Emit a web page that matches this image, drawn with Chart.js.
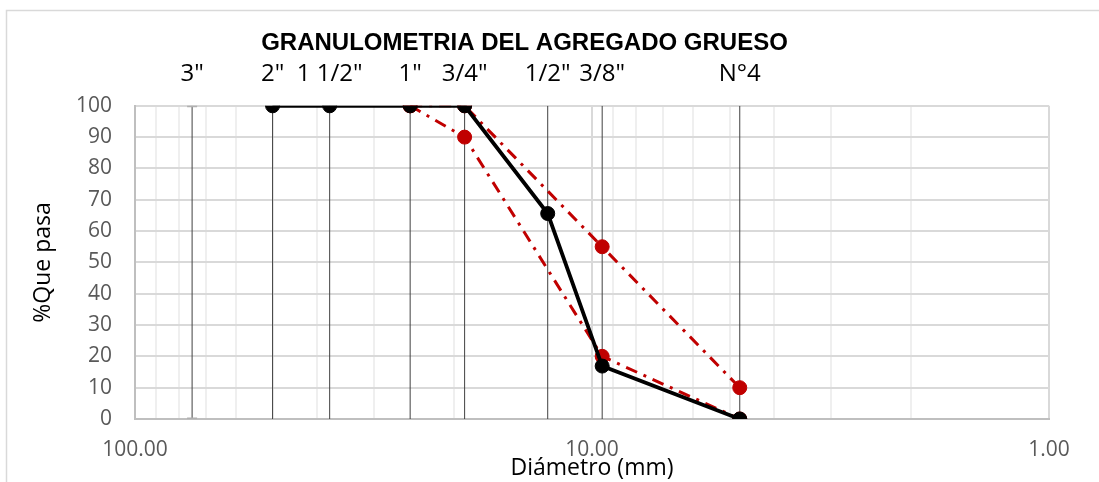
<!DOCTYPE html>
<html><head><meta charset="utf-8">
<script src="https://cdn.jsdelivr.net/npm/chart.js@4.4.1/dist/chart.umd.min.js"></script>
<style>html,body{margin:0;padding:0;background:#fff;}canvas{display:block;}</style>
</head><body>
<canvas id="c" width="1099" height="482"></canvas>
<script>
// ---- data ----
const sieveLabels = ['3"', '2"', '1 1/2"', '1"', '3/4"', '1/2"', '3/8"', 'N°4'];
const sieveSizes  = [75, 50, 37.5, 25, 19, 12.5, 9.5, 4.75];
const passing     = [null, 100, 100, 100, 100, 65.6, 16.9, 0];
const lowerLimit  = [null, null, null, 100, 90, null, 20, 0];
const upperLimit  = [null, null, null, 100, 100, null, 55, 10];
const xTickValues = [100, 90, 80, 70, 60, 50, 40, 30, 20, 10, 9, 8, 7, 6, 5, 4, 3, 2, 1];
const xTickLabels = {100: '100.00', 10: '10.00', 1: '1.00'};
const yTickValues = [0, 10, 20, 30, 40, 50, 60, 70, 80, 90, 100];

const toPoints = ys => sieveSizes.map((x, i) => ({x: x, y: ys[i]})).filter(p => p.y !== null);
const dropPoints = [];
sieveSizes.forEach(x => { dropPoints.push({x: x, y: 0}, {x: x, y: 100}, {x: x, y: null}); });

const isDecade = v => Math.abs(Math.log10(v) - Math.round(Math.log10(v))) < 1e-9;
const FONT = "'Open Sans', 'Liberation Sans', sans-serif";

const framePlugin = {
  id: 'frame',
  beforeDraw(chart) {
    const ctx = chart.ctx;
    ctx.save();
    ctx.fillStyle = '#ffffff';
    ctx.fillRect(0, 0, chart.width, chart.height);
    ctx.strokeStyle = '#d9d9d9';
    ctx.lineWidth = 1.5;
    ctx.strokeRect(6.5, 10.5, chart.width + 10, chart.height + 10);
    ctx.restore();
  }
};

new Chart(document.getElementById('c'), {
  type: 'line',
  data: {
    datasets: [
      {
        label: 'Muestra',
        data: toPoints(passing),
        borderColor: '#000000',
        backgroundColor: '#000000',
        borderWidth: 3.8,
        pointRadius: 7,
        pointBorderWidth: 1,
        pointBackgroundColor: '#000000',
        pointBorderColor: '#000000',
        tension: 0
      },
      {
        label: 'Límite inferior',
        data: toPoints(lowerLimit),
        borderColor: '#C00000',
        backgroundColor: '#C00000',
        borderWidth: 3,
        borderDash: [12, 7, 3, 7],
        pointRadius: 7,
        pointBorderWidth: 1,
        pointBackgroundColor: '#C00000',
        pointBorderColor: '#C00000',
        spanGaps: true,
        tension: 0
      },
      {
        label: 'Límite superior',
        data: toPoints(upperLimit),
        borderColor: '#C00000',
        backgroundColor: '#C00000',
        borderWidth: 3,
        borderDash: [12, 7, 3, 7],
        pointRadius: 7,
        pointBorderWidth: 1,
        pointBackgroundColor: '#C00000',
        pointBorderColor: '#C00000',
        spanGaps: true,
        tension: 0
      },
      {
        label: 'Tamices',
        data: dropPoints,
        borderColor: '#404040',
        borderWidth: 1,
        spanGaps: false,
        pointStyle: 'line',
        pointRadius: c => (c.raw && c.raw.x === 75 && c.raw.y !== null) ? 5 : 0,
        pointBorderColor: '#b0b0b0',
        pointBorderWidth: 3,
        pointHoverRadius: 0,
        tension: 0
      }
    ]
  },
  options: {
    responsive: false,
    animation: false,
    devicePixelRatio: 1,
    layout: {padding: {left: 0, right: 50, top: 0, bottom: 0}},
    plugins: {
      legend: {display: false},
      tooltip: {enabled: false},
      title: {
        display: true,
        text: 'GRANULOMETRIA DEL AGREGADO GRUESO',
        color: '#000000',
        font: {family: "'Liberation Sans', Arial, sans-serif", size: 24, weight: 'bold'},
        padding: {top: 29, bottom: 0}
      }
    },
    scales: {
      x: {
        type: 'logarithmic',
        position: 'bottom',
        reverse: true,
        min: 1,
        max: 100,
        afterBuildTicks: s => { s.ticks = xTickValues.map(v => ({value: v})); },
        afterFit: s => { s.height = 63; },
        ticks: {
          autoSkip: false,
          maxRotation: 0,
          padding: 18,
          color: '#595959',
          font: {family: FONT, size: 21},
          callback: v => xTickLabels[v] || ''
        },
        grid: {
          drawTicks: false,
          color: c => isDecade(c.tick.value) ? '#d9d9d9' : '#efefef',
          lineWidth: 2
        },
        border: {display: true, color: '#bfbfbf', width: 2},
        title: {
          display: true,
          text: 'Diámetro (mm)',
          color: '#000000',
          font: {family: FONT, size: 23},
          padding: {top: 0, bottom: 0}
        }
      },
      x2: {
        type: 'logarithmic',
        position: 'top',
        reverse: true,
        min: 1,
        max: 100,
        afterBuildTicks: s => { s.ticks = sieveSizes.map(v => ({value: v})); },
        afterFit: s => { s.height = 48; },
        ticks: {
          autoSkip: false,
          maxRotation: 0,
          padding: 17,
          color: '#000000',
          font: {family: FONT, size: 24},
          callback: (v, i) => sieveLabels[i]
        },
        grid: {display: false, drawTicks: false},
        border: {display: false}
      },
      y: {
        type: 'linear',
        position: 'left',
        min: 0,
        max: 100,
        afterBuildTicks: s => { s.ticks = yTickValues.map(v => ({value: v})); },
        afterFit: s => { s.width = 135; },
        ticks: {
          padding: 23,
          color: '#595959',
          font: {family: FONT, size: 21}
        },
        grid: {drawTicks: false, color: '#d9d9d9', lineWidth: 2},
        border: {display: true, color: '#bfbfbf', width: 2},
        title: {
          display: true,
          text: '%Que pasa',
          color: '#000000',
          font: {family: FONT, size: 23},
          padding: {top: 30, bottom: 0}
        }
      }
    }
  },
  plugins: [framePlugin]
});
</script>
</body></html>
